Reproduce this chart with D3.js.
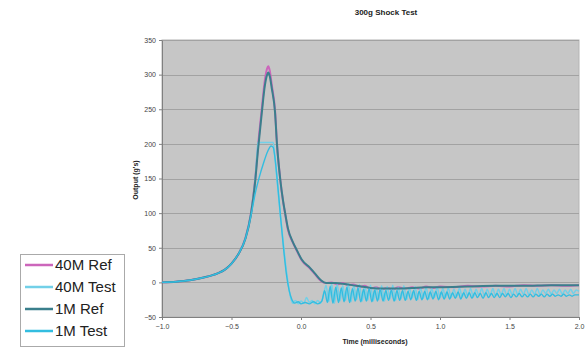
<!DOCTYPE html>
<html>
<head>
<meta charset="utf-8">
<script src="https://cdn.jsdelivr.net/npm/d3@7"></script>
<style>
  body { margin: 0; background: #fff; }
  text { font-family: "Liberation Sans", Arial, sans-serif; }
</style>
</head>
<body>
<div id="chart"></div>
<script>
// series names, in legend order
var seriesNames = ["40M Ref", "40M Test", "1M Ref", "1M Test"];
var seriesColors = ["#cc66bb", "#72d0e8", "#3a7f8c", "#33bde0"];

// [time ms, output g's]
var ref40 = [[-1.0,0],[-0.9,1],[-0.8,3],[-0.7,7],[-0.6,13],[-0.55,18],[-0.5,27],[-0.45,41],[-0.4,64],[-0.36,100],
  [-0.33,148],[-0.31,195],[-0.283,249],[-0.26,292],[-0.245,308],[-0.235,312],[-0.225,306],[-0.21,285],[-0.187,249],
  [-0.173,201],[-0.15,150],[-0.13,118],[-0.115,100],[-0.094,76],[-0.06,58],[-0.031,46],[0.005,32],[0.065,20],[0.1,12],
  [0.144,2],[0.18,-1],[0.22,0],[0.26,-3],[0.3,-1],[0.34,-4],[0.38,-3],[0.42,-7],[0.46,-5],[0.5,-9],[0.54,-7],[0.58,-10],
  [0.62,-8],[0.66,-10],[0.7,-7],[0.75,-9],[0.8,-7],[0.85,-9],[0.9,-6],[0.95,-8],[1.0,-6],[1.1,-7],[1.2,-5],[1.3,-6],
  [1.4,-5],[1.5,-6],[1.6,-4],[1.7,-5],[1.8,-4],[1.9,-5],[2.0,-4]];

var test40 = [[-1.0,0],[-0.9,1],[-0.8,3],[-0.7,7],[-0.6,13],[-0.55,18],[-0.5,27],[-0.45,41],[-0.4,64],[-0.36,100],
  [-0.33,148],[-0.315,190],[-0.31,202],[-0.2,202],[-0.19,186],[-0.17,142],[-0.15,100],[-0.13,62],[-0.11,25],[-0.09,-5],
  [-0.075,-22],[-0.06,-30],[-0.04,-26],[-0.02,-31],[0.0,-27],[0.02,-30],[0.04,-22],[0.06,-29],[0.08,-26],[0.1,-31],
  [0.12,-26],[0.14,-30],[0.16,-20],[0.18,-4],[0.2,-28],[0.22,-2],[0.24,-30],[0.26,-3],[0.28,-27],[0.3,-5],[0.32,-26],
  [0.34,-2],[0.36,-28],[0.38,-4],[0.4,-25],[0.42,-3],[0.44,-27],[0.46,-6],[0.48,-26],[0.5,-4],[0.52,-27],[0.54,-7],
  [0.56,-25],[0.58,-5],[0.6,-27],[0.62,-6],[0.64,-24],[0.66,-4],[0.68,-26],[0.7,-7],[0.72,-24],[0.74,-5],[0.76,-25],
  [0.78,-8],[0.8,-23],[0.82,-6],[0.84,-25],[0.86,-8],[0.88,-23],[0.9,-7],[0.92,-24],[0.94,-9],[0.96,-22],[0.98,-7],
  [1.0,-23],[1.02,-9],[1.04,-22],[1.06,-8],[1.08,-22],[1.1,-10],[1.12,-21],[1.14,-8],[1.16,-21],[1.18,-10],[1.2,-20],
  [1.22,-9],[1.24,-21],[1.26,-10],[1.28,-19],[1.3,-9],[1.32,-20],[1.34,-10],[1.36,-19],[1.38,-9],[1.4,-20],[1.42,-10],
  [1.44,-18],[1.46,-9],[1.48,-19],[1.5,-10],[1.52,-18],[1.54,-9],[1.56,-18],[1.58,-10],[1.6,-17],[1.62,-9],[1.64,-18],
  [1.66,-11],[1.68,-17],[1.7,-9],[1.72,-18],[1.74,-11],[1.76,-16],[1.78,-10],[1.8,-17],[1.82,-11],[1.84,-16],[1.86,-10],
  [1.88,-17],[1.9,-11],[1.92,-16],[1.94,-10],[1.96,-16],[1.98,-11],[2.0,-13]];

var ref1 = [[-1.0,0],[-0.9,1],[-0.8,3],[-0.7,7],[-0.6,13],[-0.55,18],[-0.5,27],[-0.45,41],[-0.4,63],[-0.36,98],
  [-0.33,145],[-0.31,190],[-0.283,243],[-0.26,284],[-0.245,299],[-0.235,303],[-0.225,298],[-0.21,280],[-0.187,246],
  [-0.173,200],[-0.15,150],[-0.13,119],[-0.115,101],[-0.094,78],[-0.06,59],[-0.031,47],[0.005,33],[0.065,21],[0.1,13],
  [0.144,3],[0.18,-1],[0.25,-1],[0.3,-2],[0.4,-5],[0.5,-8],[0.6,-9],[0.7,-9],[0.8,-8],[0.9,-7],[1.0,-7],[1.2,-6],
  [1.4,-5],[1.6,-5],[1.8,-4],[2.0,-4]];

var test1 = [[-1.0,0],[-0.9,1],[-0.8,3],[-0.7,7],[-0.6,13],[-0.55,18],[-0.5,27],[-0.45,41],[-0.4,63],[-0.36,96],
  [-0.33,128],[-0.3,152],[-0.27,172],[-0.24,189],[-0.215,197],[-0.2,195],[-0.185,176],[-0.165,135],[-0.145,90],
  [-0.125,48],[-0.105,12],[-0.085,-12],[-0.065,-25],[-0.045,-30],[-0.02,-28],[0.0,-31],[0.03,-29],[0.06,-31],
  [0.09,-28],[0.12,-31],[0.15,-27],[0.17,-12],[0.19,-29],[0.21,-6],[0.23,-30],[0.25,-7],[0.27,-29],[0.29,-8],
  [0.31,-28],[0.33,-7],[0.35,-29],[0.37,-9],[0.39,-27],[0.41,-8],[0.43,-28],[0.45,-10],[0.47,-27],[0.49,-9],
  [0.51,-28],[0.53,-11],[0.55,-27],[0.57,-10],[0.59,-27],[0.61,-12],[0.63,-26],[0.65,-11],[0.67,-27],[0.69,-12],
  [0.71,-26],[0.73,-12],[0.75,-26],[0.77,-13],[0.79,-25],[0.81,-12],[0.83,-26],[0.85,-13],[0.87,-25],[0.89,-13],
  [0.91,-25],[0.93,-14],[0.95,-24],[0.97,-13],[0.99,-25],[1.01,-14],[1.03,-24],[1.05,-14],[1.07,-24],[1.09,-15],
  [1.11,-23],[1.13,-14],[1.15,-24],[1.17,-15],[1.19,-23],[1.21,-15],[1.23,-23],[1.25,-15],[1.27,-22],[1.29,-16],
  [1.31,-23],[1.33,-15],[1.35,-22],[1.37,-16],[1.39,-22],[1.41,-16],[1.43,-22],[1.45,-16],[1.47,-21],[1.49,-16],
  [1.51,-22],[1.53,-17],[1.55,-21],[1.57,-16],[1.59,-21],[1.61,-17],[1.63,-21],[1.65,-17],[1.67,-21],[1.69,-17],
  [1.71,-20],[1.73,-17],[1.75,-21],[1.77,-17],[1.79,-20],[1.81,-17],[1.83,-20],[1.85,-18],[1.87,-20],[1.89,-17],
  [1.91,-20],[1.93,-18],[1.95,-20],[1.97,-18],[2.0,-18]];

var xTicks = [-1.0, -0.5, 0.0, 0.5, 1.0, 1.5, 2.0];
var yTicks = [-50, 0, 50, 100, 150, 200, 250, 300, 350];

var width = 585,
    height = 348,
    plotLeft = 162,
    plotRight = 579,
    plotTop = 40,
    plotBottom = 317;

var svg = d3.select("#chart")
    .append("svg")
    .attr("width", width)
    .attr("height", height);

var x = d3.scaleLinear().domain([-1, 2]).range([plotLeft, plotRight]);
var y = d3.scaleLinear().domain([-50, 350]).range([plotBottom, plotTop]);

// plot area
svg.append("rect")
    .attr("x", plotLeft)
    .attr("y", plotTop)
    .attr("width", plotRight - plotLeft)
    .attr("height", plotBottom - plotTop)
    .style("fill", "#c6c6c6")
    .style("stroke", "#b4b4b4")
    .style("stroke-width", "1px");

// gridlines
svg.append("g")
    .selectAll("line")
    .data(yTicks.slice(1))
    .enter()
    .append("line")
    .attr("x1", plotLeft)
    .attr("x2", plotRight)
    .attr("y1", d => Math.round(y(d)) + 0.5)
    .attr("y2", d => Math.round(y(d)) + 0.5)
    .style("stroke", "#a2a2a2")
    .style("stroke-width", "1px");

var yAxis = d3.axisLeft(y)
    .tickValues(yTicks)
    .tickSizeInner(3)
    .tickSizeOuter(0)
    .tickPadding(3);

var xAxis = d3.axisBottom(x)
    .tickValues(xTicks)
    .tickFormat(d3.format(".1f"))
    .tickSizeInner(3)
    .tickSizeOuter(0)
    .tickPadding(4);

var gy = svg.append("g")
    .attr("transform", "translate(" + plotLeft + ",0)")
    .call(yAxis);

var gx = svg.append("g")
    .attr("transform", "translate(0," + plotBottom + ")")
    .call(xAxis);

[gx, gy].forEach(function (g) {
    g.select("path").style("stroke", "#808080");
    g.selectAll(".tick line").style("stroke", "#808080");
    g.selectAll(".tick text")
        .style("fill", "#444")
        .style("font-size", "7px")
        .style("font-family", "'Liberation Sans', Arial, sans-serif");
});

// lines
var line = d3.line()
    .x(d => x(d[0]))
    .y(d => y(d[1]))
    .curve(d3.curveMonotoneX);

var allSeries = [ref40, test40, ref1, test1];
var widths = [2, 1.5, 2, 1.4];

allSeries.forEach(function (s, i) {
    svg.append("path")
        .datum(s)
        .attr("d", line)
        .style("fill", "none")
        .style("stroke", seriesColors[i])
        .style("stroke-width", widths[i] + "px")
        .style("stroke-linejoin", "round");
});

// titles
svg.append("text")
    .attr("x", 386)
    .attr("y", 15)
    .attr("text-anchor", "middle")
    .attr("font-weight", "bold")
    .style("font-size", "8px")
    .style("fill", "#222")
    .text("300g Shock Test");

svg.append("text")
    .attr("x", 375)
    .attr("y", 344)
    .attr("text-anchor", "middle")
    .attr("font-weight", "bold")
    .style("font-size", "7px")
    .style("fill", "#222")
    .text("Time (milliseconds)");

svg.append("text")
    .attr("transform", "translate(138,180) rotate(-90)")
    .attr("text-anchor", "middle")
    .attr("font-weight", "bold")
    .style("font-size", "7px")
    .style("fill", "#222")
    .text("Output (g's)");

// legend
var legend = svg.append("g");

legend.append("rect")
    .attr("x", 20.5)
    .attr("y", 254.5)
    .attr("width", 104)
    .attr("height", 92)
    .style("fill", "#fff")
    .style("stroke", "#aaa")
    .style("stroke-width", "1px");

seriesNames.forEach(function (name, i) {
    var ly = 265 + i * 22;
    legend.append("line")
        .attr("x1", 25)
        .attr("x2", 53)
        .attr("y1", ly)
        .attr("y2", ly)
        .style("stroke", seriesColors[i])
        .style("stroke-width", "2.5px");
    legend.append("text")
        .attr("x", 55)
        .attr("y", ly)
        .attr("dy", "0.36em")
        .style("font-size", "15px")
        .style("fill", "#222")
        .text(name);
});
</script>
</body>
</html>
